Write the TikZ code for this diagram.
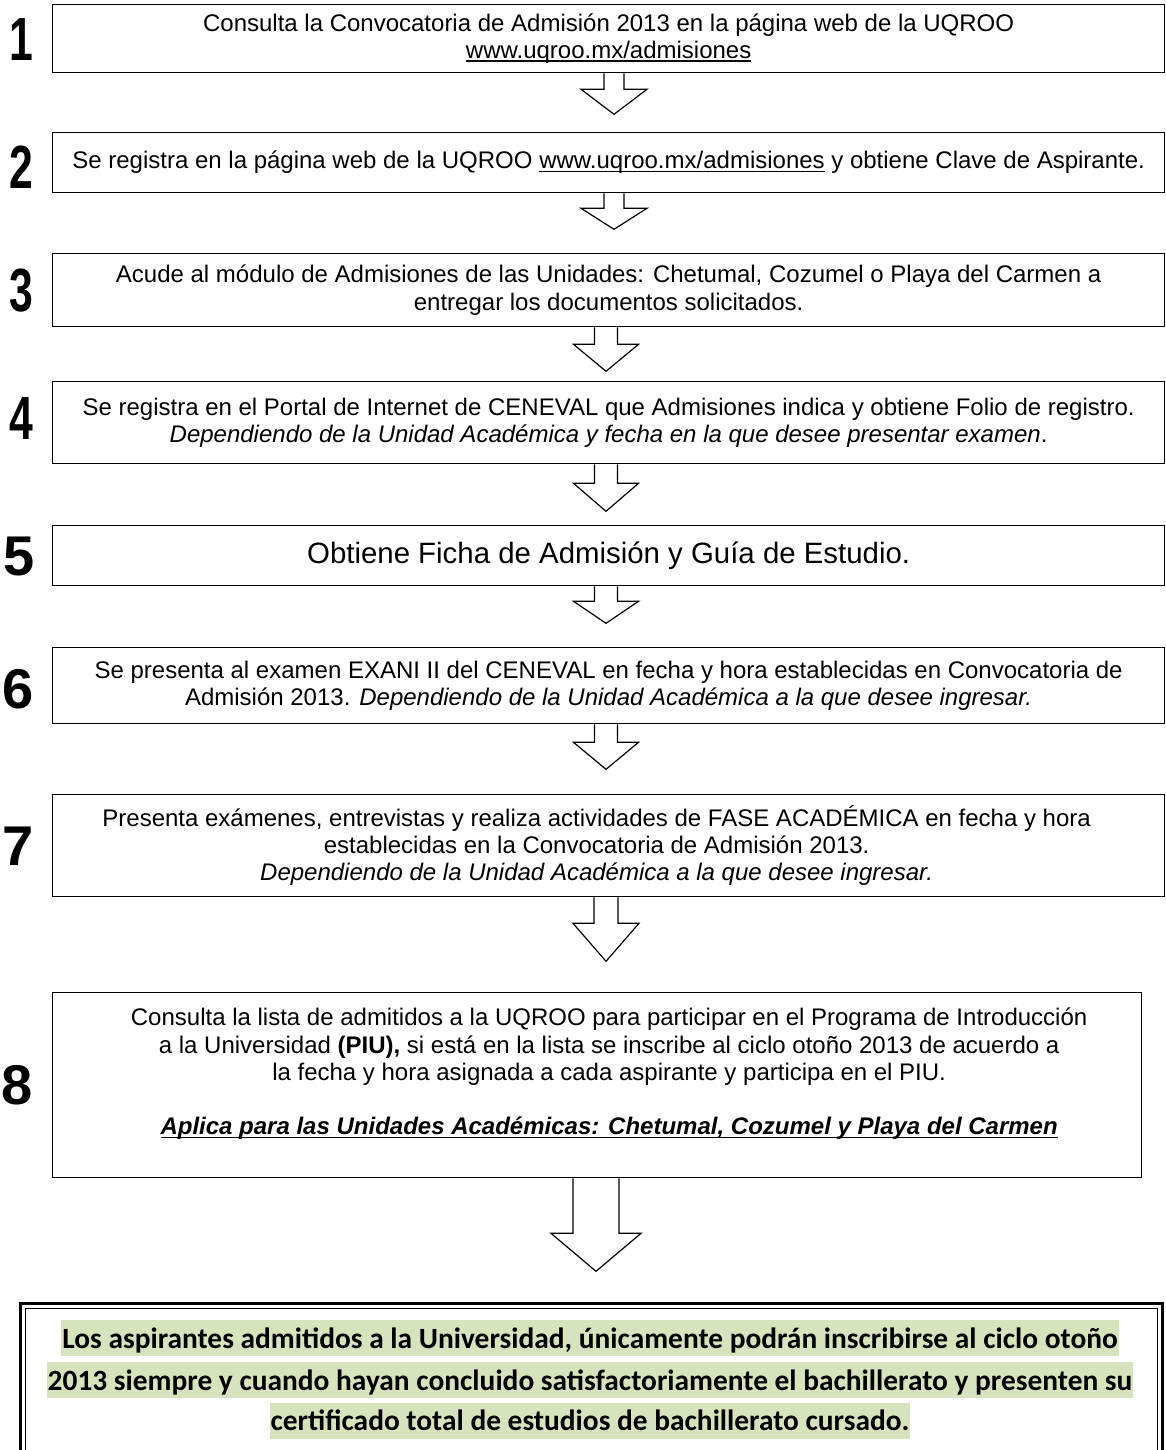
\documentclass[tikz,border=0pt]{standalone}
\usepackage{fontspec}
\usepackage{graphicx}
\setmainfont{Liberation Sans}
\newfontfamily\calibri{Carlito}
\usetikzlibrary{calc}
\definecolor{resaltado}{RGB}{215,227,188}

\newsavebox{\cajasub}
\newcommand{\subrayado}[1]{\sbox{\cajasub}{#1}\rlap{\rule[-0.14em]{\wd\cajasub}{0.065em}}\usebox{\cajasub}}

\tikzset{
  caja/.style={draw, line width=1.3pt, inner sep=0pt, align=center, anchor=north west,
    font=\fontsize{24}{27.3}\selectfont},
  texto/.style={inner sep=0pt, align=center, font=\fontsize{24}{27.3}\selectfont},
  paso/.style={font=\bfseries\fontsize{61}{61}\selectfont, inner sep=0pt},
  pasoancho/.style={font=\bfseries\fontsize{56}{56}\selectfont, inner sep=0pt},
  flecha/.style={line width=1.2pt, line join=miter},
  nota/.style={font=\calibri\bfseries\fontsize{29.4}{34}\selectfont, fill=resaltado,
    inner xsep=1pt, inner ysep=0pt, text height=28pt, text depth=8pt}
}

% #1 caja, #2 eje, #3 medio ancho del tallo, #4 medio ancho de la punta, #5 largo del tallo, #6 largo de la punta
\newcommand{\flecha}[6]{%
  \draw[flecha] ($(#1.south -| #2)+(-#3,0)$) -- ++(0,#5) -- ++({#3-#4},0)
    -- ++(#4,#6) -- ++(#4,-#6) -- ++({#3-#4},0) -- ++(0,-#5);
}

\begin{document}
\begin{tikzpicture}[x=1pt, y=-1pt]
  \useasboundingbox (0,0) rectangle (1166,1450);

  \coordinate (ejeA) at (614,0);
  \coordinate (ejeB) at (606,0);
  \coordinate (ejeC) at (596,0);

  \node[caja, minimum width=1112pt, minimum height=68pt] (b1) at (52,4)
    {Consulta la Convocatoria de Admisión 2013 en la página web de la UQROO\\
     \subrayado{www.uqroo.mx/admisiones}};
  \node[caja, minimum width=1112pt, minimum height=60pt] (b2) at (52,132)
    {Se registra en la página web de la UQROO \subrayado{www.uqroo.mx/admisiones} y obtiene Clave de Aspirante.};
  \node[caja, minimum width=1112pt, minimum height=73pt] (b3) at (52,253)
    {Acude al módulo de Admisiones de las Unidades: Chetumal, Cozumel o Playa del Carmen a\\
     entregar los documentos solicitados.};
  \node[caja, minimum width=1112pt, minimum height=82pt] (b4) at (52,381)
    {Se registra en el Portal de Internet de CENEVAL que Admisiones indica y obtiene Folio de registro.\\
     \textit{Dependiendo de la Unidad Académica y fecha en la que desee presentar examen}.};
  \node[caja, minimum width=1112pt, minimum height=60pt, font=\fontsize{29.4}{34}\selectfont] (b5) at (52,525)
    {Obtiene Ficha de Admisión y Guía de Estudio.};
  \node[caja, minimum width=1112pt, minimum height=76pt] (b6) at (52,647)
    {Se presenta al examen EXANI II del CENEVAL en fecha y hora establecidas en Convocatoria de\\
     Admisión 2013. \textit{Dependiendo de la Unidad Académica a la que desee ingresar.}};
  \node[caja, minimum width=1112pt, minimum height=102pt] (b7) at (52,794) {};
  \node[texto] (t7) at ($(b7.center)+(-12,0)$)
    {Presenta exámenes, entrevistas y realiza actividades de FASE ACADÉMICA en fecha y hora\\
     establecidas en la Convocatoria de Admisión 2013.\\
     \textit{Dependiendo de la Unidad Académica a la que desee ingresar.}};
  \node[caja, minimum width=1089pt, minimum height=185pt] (b8) at (52,992) {};
  \node[texto] (t8) at ($(b8.center)+(12,0)$)
    {Consulta la lista de admitidos a la UQROO para participar en el Programa de Introducción\\
     a la Universidad \textbf{(PIU),} si está en la lista se inscribe al ciclo otoño 2013 de acuerdo a\\
     la fecha y hora asignada a cada aspirante y participa en el PIU.\\
     \mbox{}\\
     \textbf{\textit{\subrayado{Aplica para las Unidades Académicas: Chetumal, Cozumel y Playa del Carmen}}}\\
     \mbox{}};

  \node[paso] (n1) at (21,40) {\scalebox{0.7}[1]{1}};
  \node[paso] (n2) at (21,167) {\scalebox{0.7}[1]{2}};
  \node[paso] (n3) at (21,291) {\scalebox{0.7}[1]{3}};
  \node[paso] (n4) at (21,419) {\scalebox{0.7}[1]{4}};
  \node[pasoancho] (n5) at (19,557) {5};
  \node[pasoancho] (n6) at (18,689) {6};
  \node[pasoancho] (n7) at (18,846) {7};
  \node[pasoancho] (n8) at (17,1085) {8};

  \flecha{b1}{ejeA}{10}{33}{16}{25}
  \flecha{b2}{ejeA}{10}{33}{15}{21}
  \flecha{b3}{ejeB}{11.5}{32.5}{17}{27}
  \flecha{b4}{ejeB}{11.5}{32.5}{19}{28}
  \flecha{b5}{ejeB}{11.5}{32.5}{15}{22}
  \flecha{b6}{ejeB}{11.5}{32.5}{18}{27}
  \flecha{b7}{ejeB}{12}{33}{26}{38}
  \flecha{b8}{ejeC}{23}{45}{55}{38}

  \node[draw, line width=2.5pt, minimum width=1142pt, minimum height=170pt, anchor=north west,
    inner sep=0pt] (fin) at (19,1302) {};
  \draw[line width=1pt] ($(fin.north west)+(6,6)$) rectangle ($(fin.south east)+(-6,-6)$);

  \node[nota] (t1) at (590,1338) {Los aspirantes admitidos a la Universidad, únicamente podrán inscribirse al ciclo otoño};
  \node[nota] (t2) at (590,1380) {2013 siempre y cuando hayan concluido satisfactoriamente el bachillerato y presenten su};
  \node[nota] (t3) at (590,1420.5) {certificado total de estudios de bachillerato cursado.};
\end{tikzpicture}
\end{document}
